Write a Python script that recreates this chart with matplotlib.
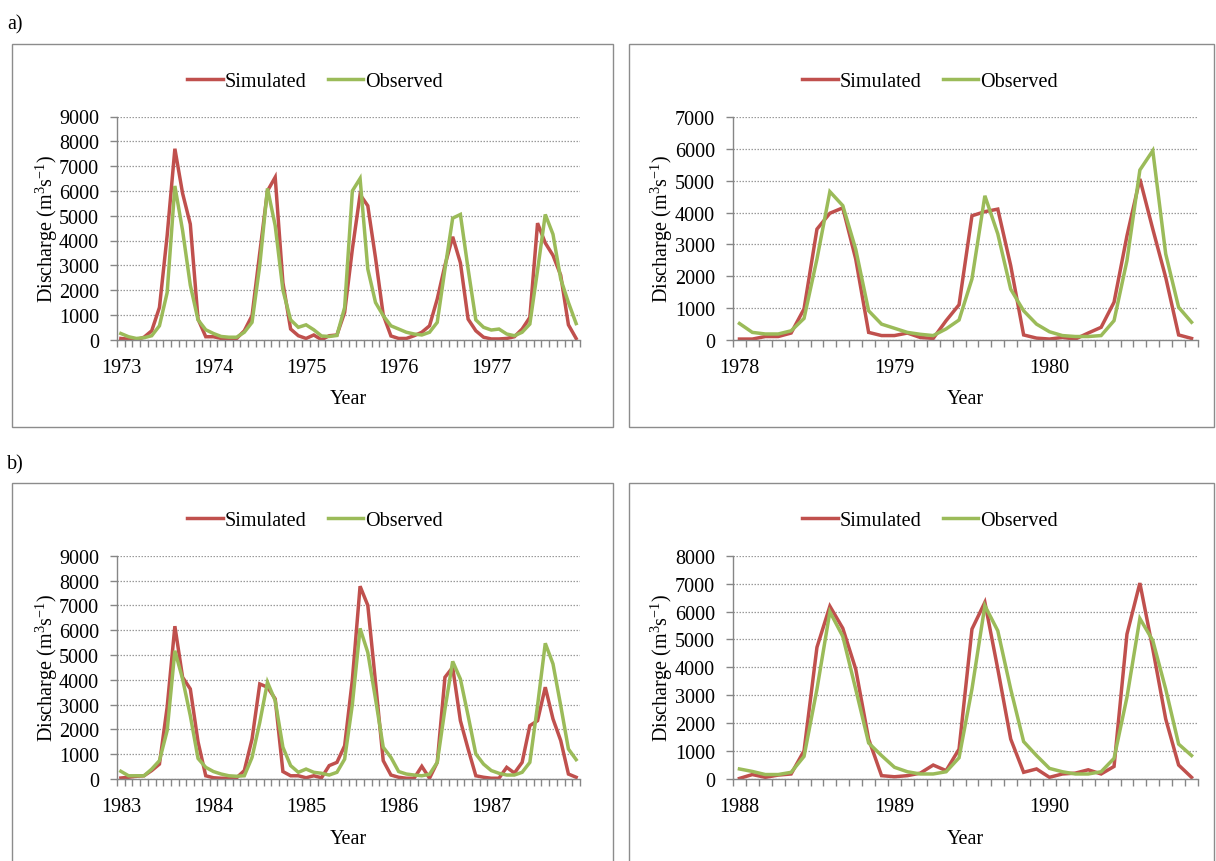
import numpy as np
import matplotlib
matplotlib.use('Agg')
import matplotlib.pyplot as plt
from matplotlib.patches import Rectangle

# monthly discharge (m3/s)
years_a1 = ['1973', '1974', '1975', '1976', '1977']
sim_a1 = [50, 20, 0, 100, 360, 1300, 4200, 7700, 5900, 4660, 830, 120,
          120, 50, 30, 50, 360, 970, 3500, 6000, 6550, 2300, 430, 160,
          50, 190, 0, 160, 190, 1100, 3650, 5850, 5400, 3300, 1000, 150,
          50, 50, 160, 300, 560, 1640, 3000, 4150, 3100, 830, 360, 100,
          30, 30, 50, 120, 430, 900, 4700, 3900, 3400, 2600, 600, 50]
obs_a1 = [250, 120, 50, 80, 160, 560, 1900, 6200, 4400, 2200, 800, 400,
          250, 130, 100, 100, 300, 700, 3000, 6100, 4600, 2000, 800, 500,
          600, 400, 150, 130, 170, 1300, 6000, 6500, 2850, 1500, 970, 560,
          430, 300, 230, 190, 300, 700, 2850, 4900, 5050, 2850, 800, 500,
          390, 430, 230, 160, 300, 630, 2800, 5050, 4250, 2450, 1500, 650]

years_a2 = ['1978', '1979', '1980']
sim_a2 = [20, 20, 100, 100, 210, 970, 3480, 3980, 4150, 2540, 230, 130,
          130, 210, 70, 40, 600, 1100, 3900, 4030, 4110, 2330, 150, 50,
          20, 70, 20, 210, 390, 1180, 3270, 5060, 3480, 1960, 150, 40]
obs_a2 = [510, 230, 180, 180, 280, 670, 2540, 4660, 4220, 2850, 910, 490,
          360, 230, 170, 130, 340, 620, 1910, 4530, 3330, 1590, 910, 490,
          250, 130, 100, 100, 130, 600, 2490, 5340, 5950, 2700, 1020, 550]

years_b1 = ['1983', '1984', '1985', '1986', '1987']
sim_b1 = [40, 70, 110, 130, 340, 600, 2900, 6160, 4100, 3630, 1500, 130,
          50, 30, 30, 50, 340, 1610, 3830, 3700, 3230, 300, 130, 130,
          50, 130, 50, 540, 670, 1340, 4000, 7770, 7000, 3900, 740, 160,
          70, 30, 30, 510, 30, 670, 4100, 4500, 2350, 1210, 130, 70,
          30, 30, 470, 240, 670, 2150, 2350, 3700, 2420, 1550, 200, 70]
obs_b1 = [310, 130, 130, 130, 400, 740, 1950, 5170, 4030, 2550, 830, 470,
          300, 200, 130, 110, 130, 870, 2280, 3900, 3160, 1280, 540, 270,
          400, 270, 230, 160, 270, 800, 3000, 6070, 5100, 3230, 1280, 870,
          300, 200, 160, 130, 190, 670, 2820, 4740, 4030, 2550, 1010, 600,
          340, 230, 160, 160, 270, 670, 2960, 5470, 4640, 2960, 1210, 780]

years_b2 = ['1988', '1989', '1990']
sim_b2 = [20, 160, 60, 140, 180, 1010, 4720, 6190, 5400, 3940, 1430, 120,
          80, 120, 210, 500, 300, 1070, 5370, 6330, 3940, 1430, 240, 360,
          60, 180, 210, 330, 180, 450, 5190, 7020, 4660, 2150, 500, 60]
obs_b2 = [360, 270, 160, 160, 240, 810, 3220, 5990, 5110, 3220, 1290, 840,
          420, 260, 180, 180, 260, 760, 3220, 6210, 5310, 3220, 1340, 840,
          380, 260, 180, 180, 260, 740, 2930, 5750, 4960, 3220, 1250, 840]

W, H = 1216, 862
plt.rcParams['font.family'] = ['Liberation Serif', 'DejaVu Serif']
plt.rcParams['mathtext.fontset'] = 'custom'
plt.rcParams['mathtext.rm'] = 'Liberation Serif'
plt.rcParams['mathtext.it'] = 'Liberation Serif:italic'
plt.rcParams['font.size'] = 14.5

red = '#C0504D'
green = '#9BBB59'
axcol = '#868686'

fig = plt.figure(figsize=(W / 100, H / 100), dpi=100)


def px_axes(left, top, right, bottom):
    return fig.add_axes([left / W, 1 - bottom / H, (right - left) / W, (bottom - top) / H])


def draw_panel(ax, sim, obs, years, ymax, legend_xy):
    n = len(sim)
    x = np.arange(n)
    l1, = ax.plot(x, sim, color=red, lw=2.5, solid_joinstyle='miter', label='Simulated')
    l2, = ax.plot(x, obs, color=green, lw=2.5, solid_joinstyle='miter', label='Observed')
    ax.set_xlim(-0.5, n - 0.5)
    ax.set_ylim(0, ymax)
    ax.set_yticks(np.arange(0, ymax + 1, 1000))
    ax.set_xticks(np.arange(0, n, 12))
    ax.set_xticklabels(years)
    ax.set_xticks(np.arange(-0.5, n, 1), minor=True)
    ax.tick_params(axis='x', which='major', length=0, pad=13)
    ax.tick_params(axis='x', which='minor', length=5, width=1, color=axcol)
    ax.tick_params(axis='y', length=5, width=1, color=axcol, pad=8)
    ax.grid(axis='y', ls=(0, (1.2, 1.2)), color='#9A9A9A', lw=0.9)
    ax.set_axisbelow(True)
    for s in ['top', 'right']:
        ax.spines[s].set_visible(False)
    for s in ['left', 'bottom']:
        ax.spines[s].set_color(axcol)
        ax.spines[s].set_linewidth(1)
    ax.set_ylabel('Discharge (m$^{3}$s$^{-1}$)')
    ax.yaxis.set_label_coords(-0.124, 0.5)
    ax.set_xlabel('Year')
    ax.xaxis.set_label_coords(0.5, -0.222)
    ax.legend(handles=[l1, l2], loc='center',
              bbox_to_anchor=(legend_xy[0] / W, 1 - legend_xy[1] / H),
              bbox_transform=fig.transFigure, ncol=2, frameon=False,
              handlelength=1.75, handletextpad=0.1, columnspacing=1.05,
              borderpad=0, borderaxespad=0)


ax1 = px_axes(117, 117.5, 580, 340.7)
draw_panel(ax1, sim_a1, obs_a1, years_a1, 9000, (315, 82))
ax2 = px_axes(733, 118.3, 1198, 340.7)
draw_panel(ax2, sim_a2, obs_a2, years_a2, 7000, (930, 82))
ax3 = px_axes(117, 556.7, 580, 780)
draw_panel(ax3, sim_b1, obs_b1, years_b1, 9000, (315, 521))
ax4 = px_axes(733, 556.7, 1198, 780)
draw_panel(ax4, sim_b2, obs_b2, years_b2, 8000, (930, 521))

# panel frames
for (x0, y0, x1, y1) in [(12, 45, 613, 428), (629, 45, 1214, 428),
                         (12, 484, 613, 875), (629, 484, 1214, 875)]:
    fig.patches.append(Rectangle((x0 / W, 1 - y1 / H), (x1 - x0) / W, (y1 - y0) / H,
                                 transform=fig.transFigure, fill=False,
                                 edgecolor='#8C8C8C', lw=1))

fig.text(7 / W, 1 - 25 / H, 'a)', va='center', ha='left')
fig.text(7 / W, 1 - 465 / H, 'b)', va='center', ha='left')

fig.savefig('out.png', dpi=100)
